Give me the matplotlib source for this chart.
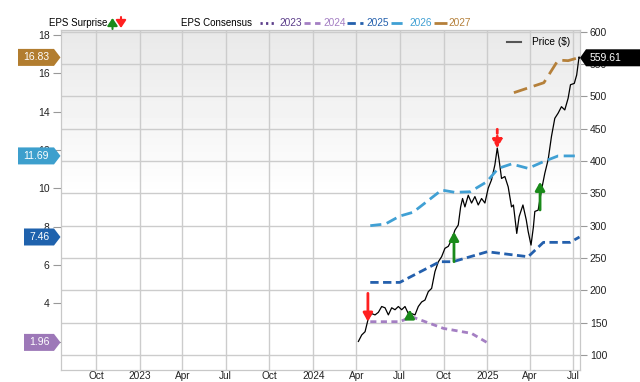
import numpy as np
import pandas as pd
import matplotlib
matplotlib.use("Agg")
import matplotlib.pyplot as plt
import matplotlib.dates as mdates
from matplotlib.patches import Polygon, FancyArrowPatch
from matplotlib.transforms import IdentityTransform

plt.rcParams['font.family'] = ['Liberation Sans', 'DejaVu Sans']

# --- data ---
price_dates = ["2024-04-05", "2024-04-12", "2024-04-19", "2024-04-26", "2024-05-03", "2024-05-10",
               "2024-05-17", "2024-05-24", "2024-05-31", "2024-06-07", "2024-06-14", "2024-06-21",
               "2024-06-28", "2024-07-05", "2024-07-12", "2024-07-19", "2024-07-26", "2024-08-02",
               "2024-08-09", "2024-08-16", "2024-08-23", "2024-08-30", "2024-09-06", "2024-09-13",
               "2024-09-20", "2024-09-27", "2024-10-04", "2024-10-11", "2024-10-18", "2024-10-25",
               "2024-11-01", "2024-11-06", "2024-11-10", "2024-11-15", "2024-11-22", "2024-11-29",
               "2024-12-06", "2024-12-13", "2024-12-20", "2024-12-27", "2025-01-03", "2025-01-10",
               "2025-01-17", "2025-01-22", "2025-01-26", "2025-01-31", "2025-02-07", "2025-02-14",
               "2025-02-21", "2025-02-25", "2025-03-04", "2025-03-09", "2025-03-17", "2025-03-24",
               "2025-03-28", "2025-04-03", "2025-04-08", "2025-04-11", "2025-04-18", "2025-04-25",
               "2025-05-02", "2025-05-09", "2025-05-16", "2025-05-23", "2025-05-30", "2025-06-06",
               "2025-06-13", "2025-06-20", "2025-06-25", "2025-07-03", "2025-07-08", "2025-07-13",
               "2025-07-14"]
price = [121, 131, 136, 157, 164, 162, 166, 175, 173, 162, 173, 170,
         175, 170, 175, 164, 164, 162, 175, 182, 185, 198, 203, 229,
         244, 252, 265, 268, 278, 293, 301, 329, 342, 329, 347, 335,
         345, 332, 342, 335, 358, 371, 394, 420, 401, 373, 376, 360,
         329, 332, 288, 314, 332, 309, 291, 270, 298, 322, 324, 355,
         381, 402, 438, 466, 474, 484, 479, 497, 518, 520, 533, 561,
         559.61]

eps24_dates = ["2024-04-30", "2024-07-01", "2024-07-26", "2024-10-01", "2024-11-29", "2024-12-31"]
eps24 = [3.04, 3.04, 3.30, 2.69, 2.43, 1.96]

eps25_dates = ["2024-04-30", "2024-07-01", "2024-09-23", "2024-10-21", "2025-01-01", "2025-03-28",
               "2025-04-29", "2025-06-24", "2025-07-14"]
eps25 = [5.09, 5.09, 6.17, 6.17, 6.69, 6.43, 7.18, 7.18, 7.46]

eps26_dates = ["2024-04-30", "2024-06-01", "2024-07-01", "2024-07-29", "2024-09-27", "2024-10-25",
               "2024-11-26", "2024-12-31", "2025-01-24", "2025-02-21", "2025-03-28", "2025-04-29",
               "2025-05-30", "2025-07-14"]
eps26 = [8.05, 8.14, 8.55, 8.75, 9.91, 9.79, 9.82, 10.34, 11.04, 11.27, 11.04, 11.39, 11.69, 11.69]

eps27_dates = ["2025-02-26", "2025-04-30", "2025-05-30", "2025-06-20", "2025-07-14"]
eps27 = [14.99, 15.51, 16.69, 16.66, 16.83]

# surprise arrows: date, from, to (EPS axis)
surp_dates = ["2024-04-25", "2024-07-22", "2024-10-23", "2025-01-22", "2025-04-22"]
surp_from = [4.52, 3.21, 6.17, 13.08, 8.87]
surp_to = [3.04, 3.68, 7.73, 12.09, 10.34]
surp_dashed = [False, False, False, True, False]

years = ["2023", "2024", "2025", "2026", "2027"]
year_colors = ["#5b3d8a", "#a47fc3", "#2460ad", "#40a0d4", "#b5803a"]
tag_values = [16.83, 11.69, 7.46, 1.96]
tag_colors = ["#b27d2f", "#3d9fcd", "#1f62ad", "#9d78b8"]
last_price = 559.61

W, H = 640, 382
fig = plt.figure(figsize=(6.4, 3.82), dpi=100)
ax = fig.add_axes([60.7 / W, 1 - 370 / H, (580 - 60.7) / W, (370 - 30) / H])
ax2 = ax.twinx()

# gradient background
grad = np.ones((100, 1))
grad[:50, 0] = np.linspace(0.89, 1.0, 50) ** 0.8
ax.imshow(grad, extent=(0, 1, 0, 1), transform=ax.transAxes, aspect='auto',
          cmap='gray', vmin=0, vmax=1, zorder=0, origin='upper')

d = lambda s: pd.to_datetime(s)

ax.plot(d(price_dates), price, color='black', lw=0.9, zorder=3)

ax2.plot(d(eps24_dates), eps24, color=year_colors[1], lw=2, dashes=(2.2, 1.6))
ax2.plot(d(eps25_dates), eps25, color=year_colors[2], lw=2, dashes=(3, 1.6))
ax2.plot(d(eps26_dates), eps26, color=year_colors[3], lw=2, dashes=(4, 2))
ax2.plot(d(eps27_dates), eps27, color=year_colors[4], lw=2, dashes=(5, 2.5))

for sd, a, b, dash in zip(surp_dates, surp_from, surp_to, surp_dashed):
    col = '#1a8a1a' if b > a else '#ff2020'
    ax2.annotate('', xy=(d(sd), b), xytext=(d(sd), a),
                 arrowprops=dict(arrowstyle='-|>,head_width=0.28,head_length=0.5',
                                 color=col, lw=2, shrinkA=0, shrinkB=0,
                                 linestyle=(0, (1.5, 1)) if dash else '-'))

ax.set_xlim(d("2022-07-19"), d("2025-07-15"))
ax.set_ylim(76.8, 602.6)
ax2.set_ylim(0.52, 18.26)

ax.yaxis.set_ticks_position('right')
ax2.yaxis.set_ticks_position('left')
ax.set_yticks(np.arange(100, 601, 50))
ax2.set_yticks(np.arange(2, 19, 2))
ax.xaxis.set_major_locator(mdates.MonthLocator(bymonth=[1, 4, 7, 10]))
ax.xaxis.set_major_formatter(plt.FuncFormatter(
    lambda v, p: mdates.num2date(v).strftime('%Y') if mdates.num2date(v).month == 1
    else mdates.num2date(v).strftime('%b')))

ax.grid(True, color='#cccccc', lw=1)
ax.set_axisbelow(True)
for a in (ax, ax2):
    for sp in a.spines.values():
        sp.set_color('#c8c8c8')
ax.tick_params(axis='x', length=0, pad=1, labelsize=7.3, colors='#222222')
ax.tick_params(axis='y', length=5, pad=2, labelsize=7.5, colors='#222222', color='#999999')
ax2.tick_params(axis='y', length=6, pad=2, labelsize=7.5, colors='#222222', color='#999999')

# value tags
fig.canvas.draw()
ident = IdentityTransform()
for v, c in zip(tag_values, tag_colors):
    y = ax2.transData.transform((0, v))[1]
    x0 = 18 if v > 10 else 24
    h = 8.5
    poly = Polygon([(x0, y - h), (54, y - h), (60.5, y), (54, y + h), (x0, y + h)],
                   closed=True, facecolor=c, edgecolor='none', transform=ident)
    fig.add_artist(poly)
    fig.text((x0 + 54) / 2, y, f"{v:.2f}", color='white', fontsize=7.5,
             ha='center', va='center', transform=ident)

y = ax.transData.transform((0, last_price))[1]
fig.add_artist(Polygon([(580, y), (586, y - 8.5), (640, y - 8.5), (640, y + 8.5), (586, y + 8.5)],
                       closed=True, facecolor='black', edgecolor='none', transform=ident))
fig.text(590, y, f"{last_price:.2f}", color='white', fontsize=7.5, ha='left', va='center',
         transform=ident)

# header legend
yh = H - 23
fig.text(49, yh, "EPS Surprise", fontsize=7.0, ha='left', va='center', transform=ident)
fig.add_artist(FancyArrowPatch((112.5, yh - 6), (112.5, yh + 5), arrowstyle='-|>,head_width=0.3,head_length=0.45',
                               mutation_scale=10, shrinkA=0, shrinkB=0,
                               color='#1a8a1a', lw=1.5, transform=ident))
fig.add_artist(FancyArrowPatch((121, yh + 6), (121, yh - 5), arrowstyle='-|>,head_width=0.3,head_length=0.45',
                               mutation_scale=10, shrinkA=0, shrinkB=0,
                               color='#ff2020', lw=1.5, transform=ident))
fig.text(181, yh, "EPS Consensus", fontsize=7.0, ha='left', va='center', transform=ident)

leg_x = [(260, 276, 279), (304, 320, 323), (347, 363, 366), (391, 405, 409), (434, 447, 448)]
leg_dash = [(0.8, 1.2), (2.2, 1.6), (3, 1.6), (4, 2), (5, 2.5)]
for (a, b, t), yr, c, ds in zip(leg_x, years, year_colors, leg_dash):
    ln = plt.Line2D([a, b], [yh, yh], color=c, lw=2, dashes=ds, transform=ident)
    fig.add_artist(ln)
    fig.text(t, yh, yr, color=c, fontsize=7.3, ha='left', va='center', transform=ident)

yp = H - 41.7
fig.add_artist(plt.Line2D([507, 521], [yp, yp], color='#555555', lw=1.5, transform=ident))
fig.text(532, yp, "Price ($)", fontsize=7.3, ha='left', va='center', transform=ident)

fig.savefig("out.png", dpi=100)
